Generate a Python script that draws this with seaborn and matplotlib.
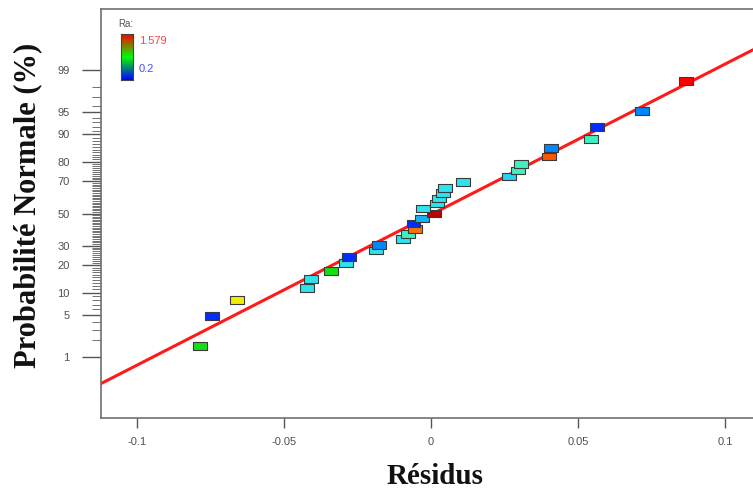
import matplotlib
matplotlib.use("Agg")
import numpy as np
import pandas as pd
import matplotlib.pyplot as plt
import seaborn as sns
from matplotlib.colors import LinearSegmentedColormap
from statistics import NormalDist

# Residuals (sorted by rank)
residus = [-0.0786, -0.0746, -0.0661, -0.0423, -0.0409, -0.0340, -0.0289, -0.0280,
           -0.0187, -0.0178, -0.0097, -0.0078, -0.0055, -0.0060, -0.0032, 0.0011,
           -0.0027, 0.0019, 0.0027, 0.0041, 0.0047, 0.0107, 0.0266, 0.0296,
           0.0307, 0.0400, 0.0409, 0.0544, 0.0564, 0.0718, 0.0866]
proba = [1.6, 4.8, 8.1, 11.3, 14.5, 17.7, 21.0, 24.2, 27.4, 30.6, 33.9, 37.1, 40.3,
         43.5, 46.8, 50.0, 53.2, 56.5, 59.7, 62.9, 66.1, 69.4, 72.6, 75.8, 79.0,
         82.3, 85.5, 88.7, 91.9, 95.2, 98.4]
ra = [0.89, 0.23, 1.14, 0.56, 0.56, 0.89, 0.56, 0.23, 0.56, 0.41, 0.56, 0.68, 1.33,
      0.23, 0.48, 1.56, 0.56, 0.56, 0.56, 0.56, 0.56, 0.56, 0.53, 0.68, 0.68, 1.36,
      0.41, 0.68, 0.23, 0.41, 1.47]

ra_min, ra_max = 0.2, 1.579

# fitted normal line
line_mu, line_sigma = 0.0007, 0.041

prob_major = [1, 5, 10, 20, 30, 50, 70, 80, 90, 95, 99]
prob_minor = [p for p in range(2, 99) if p not in prob_major]
x_ticks = [-0.1, -0.05, 0, 0.05, 0.1]
x_labels = ["-0.1", "-0.05", "0", "0.05", "0.1"]

nd = NormalDist()

sns.set_theme(style="white")
plt.rcParams["font.family"] = ["Liberation Sans", "DejaVu Sans"]
plt.rcParams["axes.unicode_minus"] = False

df = pd.DataFrame({
    "residu": residus,
    "z": [nd.inv_cdf(p / 100) for p in proba],
    "ra": ra,
})

point_cmap = LinearSegmentedColormap.from_list("ra_pts", [
    (0.0, "#0020ff"), (0.15, "#0088ff"), (0.26, "#30e4ec"), (0.35, "#40f0c0"),
    (0.5, "#10e010"), (0.68, "#f0f000"), (0.82, "#ff7000"), (0.92, "#ff0000"),
    (1.0, "#b00000")])
bar_cmap = LinearSegmentedColormap.from_list("ra_bar", ["#0000ff", "#00ff00", "#ff0000"])

fig = plt.figure(figsize=(7.53, 4.91), dpi=100)
ax = fig.add_axes([0.1341, 0.148, 0.8659, 0.8336])

xmin, xmax = -0.1123, 0.1095
xl = np.array([xmin, xmax])
yl = (xl - line_mu) / line_sigma
sns.lineplot(x=xl, y=yl, color="#ff1a1a", linewidth=2.2, ax=ax, zorder=1)

box = [(-1, -0.55), (1, -0.55), (1, 0.55), (-1, 0.55), (-1, -0.55)]
sns.scatterplot(data=df, x="residu", y="z", hue="ra", palette=point_cmap,
                hue_norm=(ra_min, ra_max), marker=box, s=100,
                edgecolor="#3a3a3a", linewidth=0.8, legend=False, ax=ax, zorder=3)

ax.set_xlim(xmin, xmax)
ax.set_ylim(-3.319, 3.314)
ax.set_xticks(x_ticks, x_labels)
ax.set_yticks([nd.inv_cdf(p / 100) for p in prob_major], [str(p) for p in prob_major])
ax.set_yticks([nd.inv_cdf(p / 100) for p in prob_minor], minor=True)
ax.set_xlabel("")
ax.set_ylabel("")

ax.tick_params(axis="y", which="major", direction="out", length=13.7, width=1,
               color="#555555", labelsize=8, labelcolor="#505050", pad=9, left=True)
ax.tick_params(axis="y", which="minor", direction="out", length=6.7, width=0.7,
               color="#707070", left=True)
ax.tick_params(axis="x", which="major", direction="out", length=7.5, width=1,
               color="#555555", labelsize=8, labelcolor="#505050", pad=6, bottom=True)

for side in ["left", "bottom", "top"]:
    ax.spines[side].set_color("#707070")
    ax.spines[side].set_linewidth(1.2)
ax.spines["right"].set_visible(False)

serif = ["Liberation Serif", "DejaVu Serif"]
fig.text(435 / 753, 1 - 484.5 / 491, "Résidus", ha="center", va="baseline",
         fontsize=21, fontweight="bold", family=serif, color="#111111")
fig.text(27.5 / 753, 1 - 205.5 / 491, "Probabilité Normale (%)", ha="center", va="center",
         rotation=90, fontsize=22, fontweight="bold", family=serif, color="#111111")

# colour key
cax = fig.add_axes([120.7 / 753, 1 - 80 / 491, 12.6 / 753, 46 / 491])
cax.imshow(np.linspace(0, 1, 100).reshape(-1, 1), aspect="auto", cmap=bar_cmap, origin="lower")
cax.set_xticks([])
cax.set_yticks([])
for s in cax.spines.values():
    s.set_color("#444444")
    s.set_linewidth(0.8)
fig.text(118 / 753, 1 - 24 / 491, "Ra:", fontsize=7, color="#555555", va="center")
fig.text(139 / 753, 1 - 40.7 / 491, f"{ra_max}", fontsize=8, color="#ff4040", va="center")
fig.text(139 / 753, 1 - 69 / 491, f"{ra_min}", fontsize=8, color="#4a4aff", va="center")

fig.savefig("out.png", dpi=100)
